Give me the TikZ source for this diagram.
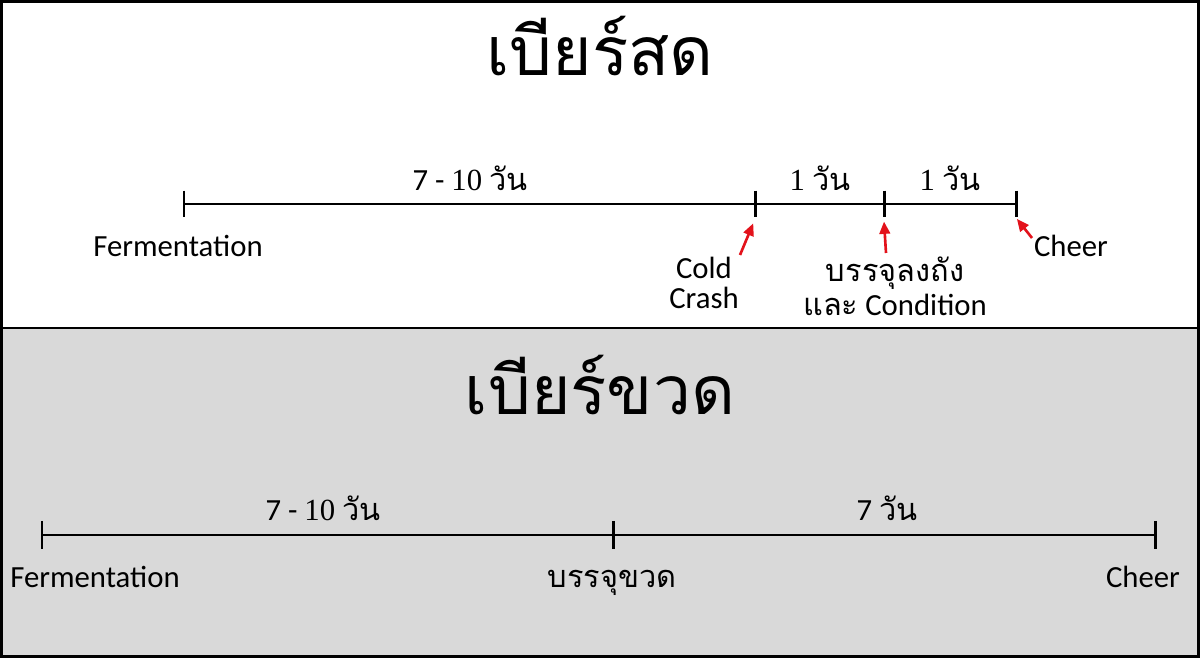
\documentclass[tikz,border=0pt]{standalone}
\usepackage{fontspec}
\setmainfont{Carlito}
\newfontfamily\thai[Script=Thai]{Loma}
\newfontfamily\digs{Liberation Serif}
\usetikzlibrary{arrows.meta}
\definecolor{panelgrey}{HTML}{D9D9D9}
\definecolor{arrowred}{HTML}{E3121B}
\tikzset{heading/.style = {font=\thai\fontsize{38.5}{42}\selectfont, inner sep=0pt},
         lbl/.style = {font=\fontsize{17.5}{17.5}\selectfont, align=center, inner sep=0pt},
         span/.style = {font=\fontsize{17.5}{19}\selectfont, inner sep=0pt, anchor=base},
         tick/.style = {line width=1.7pt},
         pointer/.style = {arrowred, line width=1.5pt, -{Triangle[length=7pt,width=6pt]}}
        }

\begin{document}
\begin{tikzpicture}[x=0.02cm, y=-0.02cm]
\useasboundingbox (0,0) rectangle (1200,658);
\fill[white] (0,0) rectangle (1200,328);
\fill[panelgrey] (0,328) rectangle (1200,658);
\draw[line width=1.7pt] (1.5,1.5) rectangle (1198.5,656.5);
\draw[line width=1.7pt] (0,328) -- (1200,328);
% headings
\node[heading] (hdraft) at (600,46) {เบียร์สด};
\node[heading] (hbottle) at (600,385) {เบียร์ขวด};
% draft beer timeline
\foreach \n/\x in {df/184, dc/755, dk/884, dh/1016}
   \coordinate (\n) at (\x,204);
\draw[tick] (df) -- (dh);
\foreach \n in {df, dc, dk, dh}
   \draw[tick] ([yshift=7.6pt]\n) -- ([yshift=-7.6pt]\n);
\node[span] (sd1) at (470,191) {7 - {\digs 10} {\thai วัน}};
\node[span] (sd2) at (820,191) {{\digs 1} {\thai วัน}};
\node[span] (sd3) at (950,191) {{\digs 1} {\thai วัน}};
\node[lbl, anchor=base] (ldf) at (178,257) {Fermentation};
\node[lbl, anchor=base] (ldc) at (704,309) {Cold\\Crash};
\node[lbl, anchor=base, font=\fontsize{17.5}{19.5}\selectfont] (ldk) at (895,316) {{\thai บรรจุลงถัง}\\{\thai และ} Condition};
\node[lbl, anchor=base] (ldh) at (1071,257) {Cheer};
\coordinate (tc) at (740,255);
\coordinate (tk) at (886,253);
\coordinate (th) at (1032,238);
\draw[pointer] (tc) -- ([xshift=-1pt,yshift=-11pt]dc);
\draw[pointer] (tk) -- ([yshift=-10pt]dk);
\draw[pointer] (th) -- ([xshift=0.5pt,yshift=-8.5pt]dh);
% bottled beer timeline
\foreach \n/\x in {bf/42, bb/613, bh/1155}
   \coordinate (\n) at (\x,535);
\draw[tick] (bf) -- (bh);
\foreach \n in {bf, bb, bh}
   \draw[tick] ([yshift=8pt]\n) -- ([yshift=-8pt]\n);
\node[span] (sb1) at (323,520) {7 - {\digs 10} {\thai วัน}};
\node[span] (sb2) at (887,520) {7 {\thai วัน}};
\node[lbl, anchor=base] (lbf) at (95,587) {Fermentation};
\node[lbl, anchor=base] (lbb) at (612,587) {\thai บรรจุขวด};
\node[lbl, anchor=base] (lbh) at (1143,587) {Cheer};
\end{tikzpicture}
\end{document}
